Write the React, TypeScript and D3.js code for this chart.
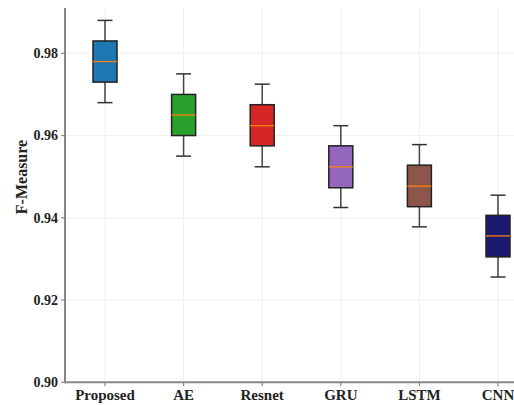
import React from "react";
import * as d3 from "d3";

const categories = ["Proposed", "AE", "Resnet", "GRU", "LSTM", "CNN"];
const whiskerHigh = [0.988, 0.975, 0.9725, 0.9624, 0.9578, 0.9455];
const q3 = [0.983, 0.97, 0.9675, 0.9575, 0.9528, 0.9406];
const medians = [0.978, 0.965, 0.9624, 0.9524, 0.9477, 0.9356];
const q1 = [0.973, 0.96, 0.9575, 0.9473, 0.9427, 0.9305];
const whiskerLow = [0.968, 0.955, 0.9524, 0.9425, 0.9378, 0.9256];
const colors = ["#1f77b4", "#2ca02c", "#d62728", "#9467bd", "#8c564b", "#191970"];
const yTicks = [0.9, 0.92, 0.94, 0.96, 0.98];
const yLabel = "F-Measure";

const W = 514;
const H = 405;
const left = 65;
const bottom = 382.3;
const top = 8;

export default function App() {
  const x = d3.scalePoint<string>().domain(categories).range([105, 498]);
  const y = d3.scaleLinear().domain([0.9, 0.98]).range([bottom, 53.3]);
  const boxW = 24;
  const capW = 15;
  const font = "'Liberation Serif', 'Times New Roman', serif";

  return (
    <svg
      width={W}
      height={H}
      style={{ position: "absolute", left: 0, top: 0, background: "#fff" }}
      fontFamily={font}
    >
      {/* grid */}
      {yTicks.map((t) => (
        <line key={"gy" + t} x1={left} x2={W} y1={y(t)} y2={y(t)} stroke="#efefef" strokeWidth={1} />
      ))}
      {categories.map((c) => (
        <line key={"gx" + c} x1={x(c)} x2={x(c)} y1={top} y2={bottom} stroke="#efefef" strokeWidth={1} />
      ))}
      {/* boxes */}
      {categories.map((c, i) => {
        const cx = x(c)!;
        return (
          <g key={c}>
            <line x1={cx} x2={cx} y1={y(whiskerHigh[i])} y2={y(q3[i])} stroke="#444" strokeWidth={1.5} />
            <line x1={cx} x2={cx} y1={y(q1[i])} y2={y(whiskerLow[i])} stroke="#444" strokeWidth={1.5} />
            <line x1={cx - capW / 2} x2={cx + capW / 2} y1={y(whiskerHigh[i])} y2={y(whiskerHigh[i])} stroke="#333" strokeWidth={1.5} />
            <line x1={cx - capW / 2} x2={cx + capW / 2} y1={y(whiskerLow[i])} y2={y(whiskerLow[i])} stroke="#333" strokeWidth={1.5} />
            <rect
              x={cx - boxW / 2}
              y={y(q3[i])}
              width={boxW}
              height={y(q1[i]) - y(q3[i])}
              fill={colors[i]}
              stroke="#222"
              strokeWidth={1.5}
            />
            <line x1={cx - boxW / 2} x2={cx + boxW / 2} y1={y(medians[i])} y2={y(medians[i])} stroke="#ff7f0e" strokeWidth={1.3} />
          </g>
        );
      })}
      {/* axes */}
      <line x1={left} x2={left} y1={top} y2={bottom + 1} stroke="#888" strokeWidth={2} />
      <line x1={left - 1} x2={W} y1={bottom} y2={bottom} stroke="#888" strokeWidth={2} />
      {yTicks.map((t) => (
        <g key={"ty" + t}>
          <line x1={left - 4} x2={left} y1={y(t)} y2={y(t)} stroke="#888" strokeWidth={1.2} />
          <text x={left - 7} y={y(t)} dy="0.35em" textAnchor="end" fontSize={14} fontWeight="bold" fill="#222">
            {d3.format(".2f")(t)}
          </text>
        </g>
      ))}
      {categories.map((c) => (
        <g key={"tx" + c}>
          <line x1={x(c)} x2={x(c)} y1={bottom} y2={bottom + 4} stroke="#888" strokeWidth={1.2} />
          <text x={x(c)} y={bottom + 18} textAnchor="middle" fontSize={15} fontWeight="bold" fill="#222">
            {c}
          </text>
        </g>
      ))}
      <text
        transform={`translate(27, 177) rotate(-90)`}
        textAnchor="middle"
        fontSize={16}
        fontWeight="bold"
        fill="#222"
      >
        {yLabel}
      </text>
    </svg>
  );
}
